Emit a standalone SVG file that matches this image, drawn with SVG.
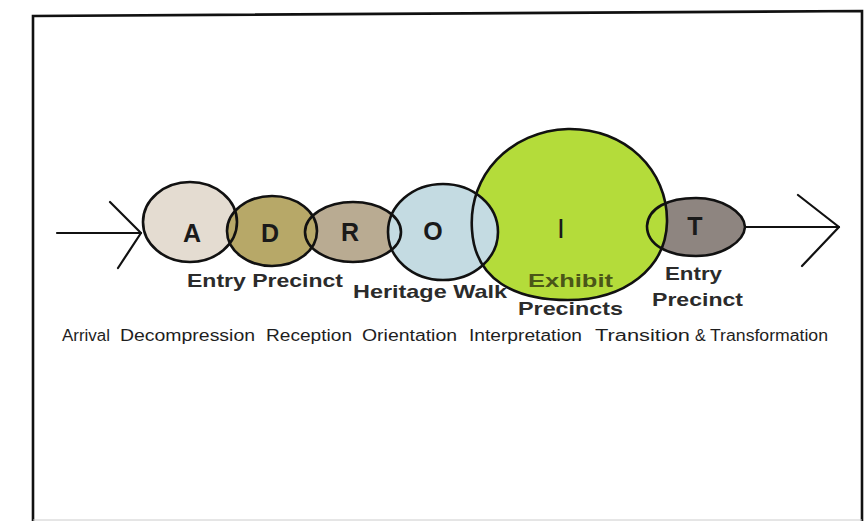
<svg xmlns="http://www.w3.org/2000/svg" xmlns:xlink="http://www.w3.org/1999/xlink" width="866" height="522" viewBox="0 0 866 522">
<style>
.outline{fill:none;stroke:#111;stroke-width:2.6}
.letter{font-family:"Liberation Sans",Arial,sans-serif;font-weight:bold;font-size:25px;fill:#1a1a1a;text-anchor:middle}
.label{font-family:"Liberation Sans",Arial,sans-serif;font-weight:bold;font-size:19px;fill:#2b2b2b}
.stage{font-family:"Liberation Sans",Arial,sans-serif;font-size:16px;fill:#1e1e1e}
.conn{fill:none;stroke:#111;stroke-width:2.2;stroke-linecap:round;stroke-linejoin:round}
</style>
<defs>
<ellipse id="shA" cx="190" cy="222" rx="47" ry="40"/>
<ellipse id="shD" cx="272" cy="231" rx="45" ry="35"/>
<ellipse id="shR" cx="353" cy="232" rx="48" ry="30"/>
<ellipse id="shO" cx="443" cy="232" rx="55" ry="48"/>
<path id="shI" d="M472,230 C468,175 510,131 568,129 C625,128 668,170 667,222 C666,268 625,300 568,300 C515,300 475,280 472,230 Z"/>
<path id="shT" d="M647,226 C648,208 668,198 696,198 C722,198 744,212 745,227 C744,242 722,256 696,256 C668,256 647,245 647,226 Z"/>
</defs>
<rect width="866" height="522" fill="#fff"/>
<path d="M33,521 L33,16 L862,11 L862,521" fill="none" stroke="#111" stroke-width="2.6"/>
<line x1="33" y1="520" x2="862" y2="520" stroke="#ccc" stroke-width="1"/>

<g id="connectors">
<line class="conn" x1="57" y1="233" x2="141" y2="233"/>
<polyline class="conn" points="110,202 141,233 118,268"/>
<line class="conn" x1="745" y1="227" x2="839" y2="227"/>
<polyline class="conn" points="798,195 839,227 802,266"/>
</g>

<g id="node-A"><use xlink:href="#shA" fill="#e4dcd1"/></g>
<g id="node-R"><use xlink:href="#shR" fill="#b9ab92"/></g>
<g id="node-D"><use xlink:href="#shD" fill="#b7a868"/></g>
<g id="node-T"><use xlink:href="#shT" fill="#8e8580"/></g>
<g id="node-I"><use xlink:href="#shI" fill="#b4dc3a"/></g>
<g id="node-O"><use xlink:href="#shO" fill="#c4dbe2"/></g>

<g id="outlines">
<use xlink:href="#shA" class="outline"/>
<use xlink:href="#shD" class="outline"/>
<use xlink:href="#shR" class="outline"/>
<use xlink:href="#shO" class="outline"/>
<use xlink:href="#shI" class="outline"/>
<use xlink:href="#shT" class="outline"/>
</g>

<g id="letters">
<text class="letter" x="192" y="242">A</text>
<text class="letter" x="270" y="242">D</text>
<text class="letter" x="350" y="241">R</text>
<text class="letter" x="433" y="240">O</text>
<text class="letter" x="561" y="238" style="font-weight:normal;font-size:28px">I</text>
<text class="letter" x="695" y="235">T</text>
</g>

<g id="labels">
<text class="label" x="187" y="287" textLength="156" lengthAdjust="spacingAndGlyphs">Entry Precinct</text>
<text class="label" x="353" y="298" textLength="154" lengthAdjust="spacingAndGlyphs">Heritage Walk</text>
<text class="label" x="528" y="287" textLength="85" lengthAdjust="spacingAndGlyphs" style="fill:#4a5518">Exhibit</text>
<text class="label" x="518" y="315" textLength="105" lengthAdjust="spacingAndGlyphs">Precincts</text>
<text class="label" x="665" y="280" textLength="57" lengthAdjust="spacingAndGlyphs">Entry</text>
<text class="label" x="652" y="306" textLength="91" lengthAdjust="spacingAndGlyphs">Precinct</text>
</g>

<g id="stages">
<text class="stage" x="62" y="341" textLength="48" lengthAdjust="spacingAndGlyphs">Arrival</text>
<text class="stage" x="120" y="341" textLength="135" lengthAdjust="spacingAndGlyphs">Decompression</text>
<text class="stage" x="266" y="341" textLength="86" lengthAdjust="spacingAndGlyphs">Reception</text>
<text class="stage" x="362" y="341" textLength="95" lengthAdjust="spacingAndGlyphs">Orientation</text>
<text class="stage" x="469" y="341" textLength="113" lengthAdjust="spacingAndGlyphs">Interpretation</text>
<text class="stage" x="595" y="341" textLength="95" lengthAdjust="spacingAndGlyphs">Transition</text>
<text class="stage" x="695" y="341">&amp;</text>
<text class="stage" x="710" y="341" textLength="118" lengthAdjust="spacingAndGlyphs">Transformation</text>
</g>
</svg>
